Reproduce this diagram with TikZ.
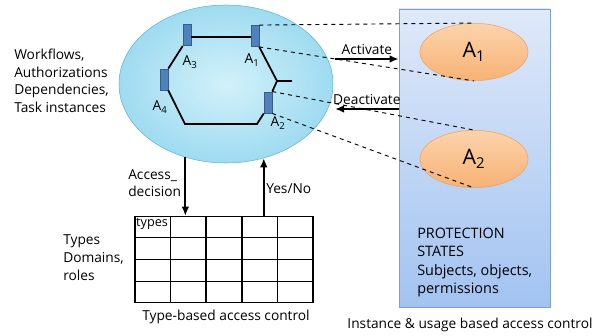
\documentclass[tikz,border=0pt]{standalone}
\usepackage{fontspec}
\setmainfont{Open Sans}
\usetikzlibrary{arrows.meta,positioning,shapes.geometric,calc}
\definecolor{poolcyan}{HTML}{9FDBF0}
\definecolor{poolcore}{HTML}{D2F1FA}
\definecolor{poolline}{HTML}{5DB6D4}
\definecolor{barblue}{HTML}{4F81BD}
\definecolor{bardark}{HTML}{385D8A}
\definecolor{statetop}{HTML}{DFE9F9}
\definecolor{statebot}{HTML}{A2C3F1}
\definecolor{stateline}{HTML}{7D9FD2}
\definecolor{instlight}{HTML}{FCD3AC}
\definecolor{instdark}{HTML}{F7B275}
\definecolor{instline}{HTML}{EFA161}

\begin{document}
\begin{tikzpicture}[x=0.75pt,y=-0.75pt,
  font=\fontsize{10.3}{12}\selectfont,
  pool/.style={ellipse, draw=poolline, inner color=poolcore, outer color=poolcyan,
               minimum width=160.5pt, minimum height=118.5pt},
  actbar/.style={rectangle, draw=bardark, fill=barblue, minimum width=6pt,
                 minimum height=16pt, inner sep=0pt},
  inst/.style={ellipse, draw=instline, top color=instlight, bottom color=instdark,
               minimum width=81pt, minimum height=43pt, font=\fontsize{16}{18}\selectfont},
  arrow/.style={-{Latex[length=2.4mm,width=2mm]}, line width=1.5pt},
  link/.style={dashed, line width=0.7pt},
  wire/.style={line width=1.3pt},
  grid/.style={line width=1pt},
  lbl/.style={inner sep=0pt, align=left}
]
  \useasboundingbox (0,0) rectangle (605,335);

  % workflow pool
  \node[pool] (pool) at (226,84) {};
  \node[actbar] (a3bar) at (187,35) {};
  \node[actbar] (a1bar) at (255,36) {};
  \node[actbar] (a4bar) at (164,79.5) {};
  \node[actbar] (a2bar) at (268,102.5) {};
  \coordinate (botL) at (185,124);
  \coordinate (botR) at (257,124);
  \coordinate (fork) at (277,81);
  \coordinate (stub) at (292,81);
  \draw[wire] ([yshift=-1.5pt]a3bar.east) -- ([yshift=-1.5pt]a3bar.east -| a1bar.west);
  \draw[wire] (a3bar.south west) -- (a4bar.north east);
  \draw[wire] (a4bar.south east) -- (botL) -- (botR) -- (a2bar.south west);
  \draw[wire] (a2bar.north east) -- (fork) -- (a1bar.south east);
  \draw[wire] (fork) -- (stub);
  \node (a3lbl) at (190,62) {A\textsubscript{3}};
  \node (a1lbl) at (252,60) {A\textsubscript{1}};
  \node (a4lbl) at (160,107) {A\textsubscript{4}};
  \node (a2lbl) at (278,123) {A\textsubscript{2}};

  % protection states
  \node[rectangle, draw=stateline, top color=statetop, bottom color=statebot,
        minimum width=113.25pt, minimum height=223.5pt] (prot) at (474.5,158) {};
  \node[inst] (e1) at (474,52) {A\textsubscript{1}};
  \node[inst] (e2) at (474,159) {A\textsubscript{2}};
  \node[lbl, anchor=north west, font=\fontsize{10.8}{13.7}\selectfont] (prottxt) at (417,228)
    {PROTECTION\\STATES\\Subjects, objects,\\permissions};
  \draw[link] (a1bar.north east) -- (e1.north);
  \draw[link] (a1bar.south east) -- (e1.south);
  \draw[link] (a2bar.north east) -- (e2.north);
  \draw[link] (a2bar.south east) -- (e2.south);

  % activation
  \coordinate (actfrom) at (335,59);
  \coordinate (deafrom) at (335,109);
  \draw[arrow] (actfrom) -- node[above=-1pt] (actlbl) {Activate} (actfrom -| prot.west);
  \draw[arrow] (deafrom -| prot.west) -- node[above=-1pt] (dealbl) {Deactivate} (deafrom);

  % type table
  \node[draw, grid, minimum width=133.5pt, minimum height=64.5pt,
        inner sep=0pt] (tab) at (224,259.5) {};
  \foreach \i in {1,...,4}
    \draw[grid] ($(tab.north west)!\i/5!(tab.north east)$) -- ($(tab.south west)!\i/5!(tab.south east)$);
  \foreach \j in {1,2,3}
    \draw[grid] ($(tab.north west)!\j/4!(tab.south west)$) -- ($(tab.north east)!\j/4!(tab.south east)$);
  \node[anchor=north west, inner sep=1.2pt, font=\fontsize{9.5}{10}\selectfont] (typecell) at (tab.north west) {types};
  \draw[arrow] (pool.241) -- (pool.241 |- tab.north);
  \draw[arrow] (pool.297 |- tab.north) -- (pool.297);

  % labels
  \node[lbl, anchor=west, font=\fontsize{10.3}{13.1}\selectfont] (flows) at (14,81)
    {Workflows,\\Authorizations\\Dependencies,\\Task instances};
  \node[lbl, anchor=west, font=\fontsize{10.3}{12.75}\selectfont] (acclbl) at (128,183.5) {Access\_\\decision};
  \node[lbl, anchor=west] (yeslbl) at (266,189) {Yes/No};
  \node[lbl, anchor=west, font=\fontsize{10.3}{13.5}\selectfont] (typelbl) at (63,257.5) {Types\\Domains,\\roles};
  \node (tabcap) at (226,317) {Type-based access control};
  \node (protcap) at (470,325) {Instance \& usage based access control};
\end{tikzpicture}
\end{document}
